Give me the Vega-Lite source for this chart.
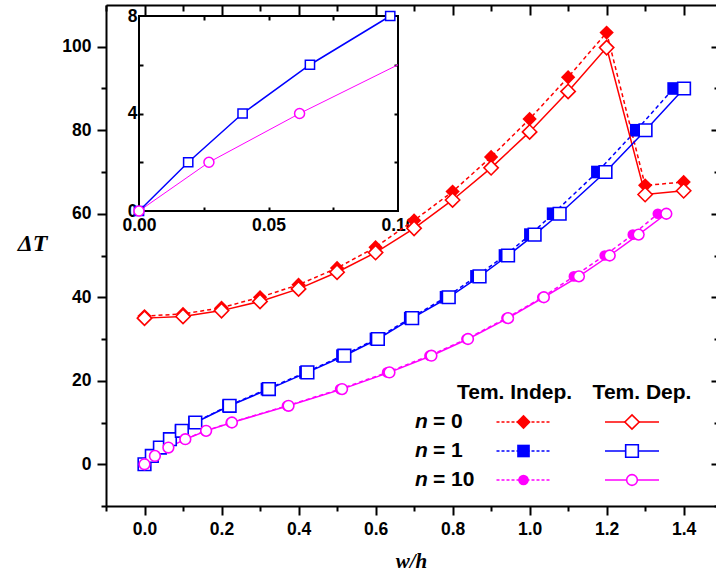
{
 "$schema": "https://vega.github.io/schema/vega-lite/v6.json",
 "width": 610,
 "height": 501,
 "autosize": "none",
 "padding": {"left": 106, "top": 5, "right": 0, "bottom": 74},
 "background": "white",
 "config": {
  "view": {"stroke": null},
  "axis": {"grid": false, "labelFont": "Liberation Sans", "labelFontWeight": "bold", "labelFontSize": 17.5, "labelColor": "black", "tickColor": "black", "tickWidth": 2, "domainColor": "black", "domainWidth": 2, "titleColor": "black", "labelOverlap": false, "labelFlush": false}
 },
 "datasets": {
  "main": [
   {"n":"0","model":"Dep","x":0,"y":35.0},{"n":"0","model":"Dep","x":0.1,"y":35.4},{"n":"0","model":"Dep","x":0.2,"y":36.8},{"n":"0","model":"Dep","x":0.3,"y":39.0},{"n":"0","model":"Dep","x":0.4,"y":42.0},{"n":"0","model":"Dep","x":0.5,"y":46.0},{"n":"0","model":"Dep","x":0.6,"y":50.7},{"n":"0","model":"Dep","x":0.7,"y":56.5},{"n":"0","model":"Dep","x":0.8,"y":63.3},{"n":"0","model":"Dep","x":0.9,"y":71.0},{"n":"0","model":"Dep","x":1.0,"y":79.6},{"n":"0","model":"Dep","x":1.1,"y":89.3},{"n":"0","model":"Dep","x":1.2,"y":99.8},{"n":"0","model":"Dep","x":1.3,"y":64.6},{"n":"0","model":"Dep","x":1.4,"y":65.5},
   {"n":"0","model":"Indep","x":0,"y":35.5},{"n":"0","model":"Indep","x":0.1,"y":36.0},{"n":"0","model":"Indep","x":0.2,"y":37.5},{"n":"0","model":"Indep","x":0.3,"y":40.0},{"n":"0","model":"Indep","x":0.4,"y":43.0},{"n":"0","model":"Indep","x":0.5,"y":47.0},{"n":"0","model":"Indep","x":0.6,"y":52.0},{"n":"0","model":"Indep","x":0.7,"y":58.4},{"n":"0","model":"Indep","x":0.8,"y":65.3},{"n":"0","model":"Indep","x":0.9,"y":73.6},{"n":"0","model":"Indep","x":1.0,"y":82.7},{"n":"0","model":"Indep","x":1.1,"y":92.7},{"n":"0","model":"Indep","x":1.2,"y":103.4},{"n":"0","model":"Indep","x":1.3,"y":66.8},{"n":"0","model":"Indep","x":1.4,"y":67.6},
   {"n":"1","model":"Dep","x":0,"y":0},{"n":"1","model":"Dep","x":0.019,"y":2},{"n":"1","model":"Dep","x":0.040,"y":4},{"n":"1","model":"Dep","x":0.066,"y":6},{"n":"1","model":"Dep","x":0.097,"y":8},{"n":"1","model":"Dep","x":0.132,"y":10},{"n":"1","model":"Dep","x":0.221,"y":14},{"n":"1","model":"Dep","x":0.323,"y":18},{"n":"1","model":"Dep","x":0.423,"y":22},{"n":"1","model":"Dep","x":0.519,"y":26},{"n":"1","model":"Dep","x":0.606,"y":30},{"n":"1","model":"Dep","x":0.695,"y":35},{"n":"1","model":"Dep","x":0.790,"y":40},{"n":"1","model":"Dep","x":0.870,"y":45},{"n":"1","model":"Dep","x":0.944,"y":50},{"n":"1","model":"Dep","x":1.013,"y":55},{"n":"1","model":"Dep","x":1.078,"y":60},{"n":"1","model":"Dep","x":1.197,"y":70},{"n":"1","model":"Dep","x":1.301,"y":80},{"n":"1","model":"Dep","x":1.401,"y":90},
   {"n":"1","model":"Indep","x":0,"y":0},{"n":"1","model":"Indep","x":0.018,"y":2},{"n":"1","model":"Indep","x":0.039,"y":4},{"n":"1","model":"Indep","x":0.065,"y":6},{"n":"1","model":"Indep","x":0.095,"y":8},{"n":"1","model":"Indep","x":0.130,"y":10},{"n":"1","model":"Indep","x":0.218,"y":14},{"n":"1","model":"Indep","x":0.318,"y":18},{"n":"1","model":"Indep","x":0.418,"y":22},{"n":"1","model":"Indep","x":0.514,"y":26},{"n":"1","model":"Indep","x":0.601,"y":30},{"n":"1","model":"Indep","x":0.690,"y":35},{"n":"1","model":"Indep","x":0.783,"y":40},{"n":"1","model":"Indep","x":0.862,"y":45},{"n":"1","model":"Indep","x":0.936,"y":50},{"n":"1","model":"Indep","x":1.002,"y":55},{"n":"1","model":"Indep","x":1.061,"y":60},{"n":"1","model":"Indep","x":1.176,"y":70},{"n":"1","model":"Indep","x":1.277,"y":80},{"n":"1","model":"Indep","x":1.374,"y":90},
   {"n":"10","model":"Dep","x":0,"y":0},{"n":"10","model":"Dep","x":0.027,"y":2},{"n":"10","model":"Dep","x":0.062,"y":4},{"n":"10","model":"Dep","x":0.106,"y":6},{"n":"10","model":"Dep","x":0.160,"y":8},{"n":"10","model":"Dep","x":0.227,"y":10},{"n":"10","model":"Dep","x":0.374,"y":14},{"n":"10","model":"Dep","x":0.513,"y":18},{"n":"10","model":"Dep","x":0.636,"y":22},{"n":"10","model":"Dep","x":0.745,"y":26},{"n":"10","model":"Dep","x":0.840,"y":30},{"n":"10","model":"Dep","x":0.944,"y":35},{"n":"10","model":"Dep","x":1.037,"y":40},{"n":"10","model":"Dep","x":1.128,"y":45},{"n":"10","model":"Dep","x":1.208,"y":50},{"n":"10","model":"Dep","x":1.283,"y":55},{"n":"10","model":"Dep","x":1.355,"y":60},
   {"n":"10","model":"Indep","x":0,"y":0},{"n":"10","model":"Indep","x":0.027,"y":2},{"n":"10","model":"Indep","x":0.061,"y":4},{"n":"10","model":"Indep","x":0.105,"y":6},{"n":"10","model":"Indep","x":0.158,"y":8},{"n":"10","model":"Indep","x":0.224,"y":10},{"n":"10","model":"Indep","x":0.370,"y":14},{"n":"10","model":"Indep","x":0.508,"y":18},{"n":"10","model":"Indep","x":0.630,"y":22},{"n":"10","model":"Indep","x":0.740,"y":26},{"n":"10","model":"Indep","x":0.836,"y":30},{"n":"10","model":"Indep","x":0.940,"y":35},{"n":"10","model":"Indep","x":1.033,"y":40},{"n":"10","model":"Indep","x":1.115,"y":45},{"n":"10","model":"Indep","x":1.195,"y":50},{"n":"10","model":"Indep","x":1.268,"y":55},{"n":"10","model":"Indep","x":1.333,"y":60}
  ],
  "heads": [{"col":"Indep","row":"head","text":"Tem. Indep."},{"col":"Dep","row":"head","text":"Tem. Dep."}],
  "rows": [{"col":"label","row":"n0","label":"= 0"},{"col":"label","row":"n1","label":"= 1"},{"col":"label","row":"n10","label":"= 10"}],
  "items": [
   {"col":"Indep","row":"n0","n":"0"},{"col":"Indep","row":"n1","n":"1"},{"col":"Indep","row":"n10","n":"10"},
   {"col":"Dep","row":"n0","n":"0"},{"col":"Dep","row":"n1","n":"1"},{"col":"Dep","row":"n10","n":"10"}
  ]
 },
 "resolve": {"scale": {"x": "independent", "y": "independent"}},
 "layer": [
  {
   "resolve": {"axis": {"x": "independent", "y": "independent"}},
   "layer": [
    {
     "data": {"values": [{}]},
     "mark": {"type": "rect", "filled": false, "stroke": "black", "strokeWidth": 2},
     "encoding": {
      "x": {"datum": 0, "type": "quantitative", "scale": {"domain": [0, 0.1], "range": [33, 292], "nice": false, "zero": false, "clamp": true},
            "axis": {"orient": "bottom", "offset": -295, "values": [0, 0.05, 0.1], "format": ".2f", "ticks": false, "domain": false, "labelPadding": 5, "title": null}},
      "x2": {"datum": 0.1},
      "y": {"datum": 0, "type": "quantitative", "scale": {"domain": [0, 8], "range": [206, 11], "nice": false, "zero": false},
            "axis": {"orient": "left", "offset": -33, "values": [0, 4, 8], "format": "d", "ticks": false, "domain": false, "labelPadding": 2, "title": null}},
      "y2": {"datum": 8}
     }
    },
    {
     "data": {"name": "main"},
     "transform": [{"filter": "datum.n === '1' && datum.model === 'Dep' && datum.x <= 0.1"}],
     "mark": {"type": "line", "color": "#0000ff", "strokeWidth": 1.5},
     "encoding": {
      "x": {"field": "x", "type": "quantitative", "axis": {"orient": "bottom", "offset": -295, "values": [0.025, 0.05, 0.075], "labels": false, "tickSize": -4, "domain": false, "title": null}},
      "y": {"field": "y", "type": "quantitative", "axis": {"orient": "left", "offset": -33, "values": [2, 4, 6], "labels": false, "tickSize": -4, "domain": false, "title": null}}
     }
    },
    {
     "data": {"name": "main"},
     "transform": [{"filter": "datum.n === '10' && datum.model === 'Dep' && datum.x <= 0.11"}],
     "mark": {"type": "line", "color": "#ff00ff", "strokeWidth": 1},
     "encoding": {
      "x": {"field": "x", "type": "quantitative", "axis": {"orient": "top", "offset": -11, "values": [0.025, 0.05, 0.075], "labels": false, "tickSize": -4, "domain": false, "title": null}},
      "y": {"field": "y", "type": "quantitative", "axis": {"orient": "right", "offset": -318, "values": [2, 4, 6], "labels": false, "tickSize": -4, "domain": false, "title": null}}
     }
    },
    {
     "data": {"name": "main"},
     "transform": [{"filter": "datum.n === '1' && datum.model === 'Dep' && datum.x <= 0.1"}],
     "mark": {"type": "point", "shape": "square", "size": 85, "filled": true, "fill": "white", "stroke": "#0000ff", "strokeWidth": 1.5, "opacity": 1},
     "encoding": {
      "x": {"field": "x", "type": "quantitative", "axis": null},
      "y": {"field": "y", "type": "quantitative", "axis": null}
     }
    },
    {
     "data": {"name": "main"},
     "transform": [{"filter": "datum.n === '10' && datum.model === 'Dep' && datum.x <= 0.1"}],
     "mark": {"type": "point", "shape": "circle", "size": 100, "filled": true, "fill": "white", "stroke": "#ff00ff", "strokeWidth": 1.5, "opacity": 1},
     "encoding": {
      "x": {"field": "x", "type": "quantitative", "axis": null},
      "y": {"field": "y", "type": "quantitative", "axis": null}
     }
    }
   ]
  },
  {
   "data": {"name": "main"},
   "resolve": {"axis": {"x": "independent", "y": "independent"}},
   "layer": [
    {
     "transform": [{"filter": "datum.model === 'Indep'"}],
     "mark": {"type": "line", "strokeWidth": 1.5, "strokeDash": [4, 3]},
     "encoding": {
      "x": {"field": "x", "type": "quantitative", "scale": {"domain": [-0.1, 1.484], "nice": false, "zero": false},
            "axis": {"orient": "bottom", "values": [0, 0.2, 0.4, 0.6, 0.8, 1.0, 1.2, 1.4], "format": ".1f", "tickSize": 9, "labelPadding": 5, "domain": true,
                     "title": "w/h", "titleFont": "Liberation Serif", "titleFontStyle": "italic", "titleFontWeight": "bold", "titleFontSize": 21, "titlePadding": 13}},
      "y": {"field": "y", "type": "quantitative", "scale": {"domain": [-10, 110], "nice": false, "zero": false},
            "axis": {"orient": "left", "values": [0, 20, 40, 60, 80, 100], "tickSize": 9, "labelPadding": 6, "domain": true,
                     "title": "ΔT", "titleAngle": 0, "titleFont": "Liberation Serif", "titleFontStyle": "italic", "titleFontWeight": "bold", "titleFontSize": 24,
                     "titleX": -74, "titleY": 238, "titleAlign": "center", "titleBaseline": "middle"}},
      "color": {"field": "n", "type": "nominal", "scale": {"domain": ["0", "1", "10"], "range": ["#ff0000", "#0000ff", "#ff00ff"]}, "legend": null}
     }
    },
    {
     "transform": [{"filter": "datum.model === 'Indep'"}],
     "mark": {"type": "point", "filled": true, "opacity": 1},
     "encoding": {
      "x": {"field": "x", "type": "quantitative", "axis": {"orient": "bottom", "values": [-0.1, 0.1, 0.3, 0.5, 0.7, 0.9, 1.1, 1.3], "labels": false, "tickSize": 5, "domain": false, "title": null}},
      "y": {"field": "y", "type": "quantitative", "axis": {"orient": "left", "values": [-10, 10, 30, 50, 70, 90], "labels": false, "tickSize": 5, "domain": false, "title": null}},
      "color": {"field": "n", "type": "nominal", "legend": null},
      "shape": {"field": "n", "type": "nominal", "scale": {"domain": ["0", "1", "10"], "range": ["diamond", "square", "circle"]}, "legend": null},
      "size": {"field": "n", "type": "ordinal", "scale": {"domain": ["0", "1", "10"], "range": [205, 115, 110]}, "legend": null}
     }
    },
    {
     "transform": [{"filter": "datum.model === 'Dep'"}],
     "mark": {"type": "line", "strokeWidth": 1.5},
     "encoding": {
      "x": {"field": "x", "type": "quantitative", "axis": {"orient": "top", "values": [0, 0.2, 0.4, 0.6, 0.8, 1.0, 1.2, 1.4], "labels": false, "tickSize": -10, "domain": true, "title": null}},
      "y": {"field": "y", "type": "quantitative", "axis": {"orient": "right", "values": [0, 20, 40, 60, 80, 100], "labels": false, "tickSize": -5, "domain": false, "title": null}},
      "color": {"field": "n", "type": "nominal", "legend": null}
     }
    },
    {
     "transform": [{"filter": "datum.model === 'Dep'"}],
     "mark": {"type": "point", "filled": true, "fill": "white", "strokeWidth": 1.6, "opacity": 1},
     "encoding": {
      "x": {"field": "x", "type": "quantitative", "axis": {"orient": "top", "values": [-0.1, 0.1, 0.3, 0.5, 0.7, 0.9, 1.1, 1.3], "labels": false, "tickSize": -6, "domain": false, "title": null}},
      "y": {"field": "y", "type": "quantitative", "axis": {"orient": "right", "values": [-10, 10, 30, 50, 70, 90], "labels": false, "tickSize": -2, "domain": false, "title": null}},
      "stroke": {"field": "n", "type": "nominal", "scale": {"domain": ["0", "1", "10"], "range": ["#ff0000", "#0000ff", "#ff00ff"]}, "legend": null},
      "shape": {"field": "n", "type": "nominal", "legend": null},
      "size": {"field": "n", "type": "ordinal", "legend": null}
     }
    }
   ]
  },
  {
   "layer": [
    {
     "data": {"name": "heads"},
     "transform": [{"filter": "datum.col === 'Indep'"}],
     "mark": {"type": "text", "font": "Liberation Sans", "fontWeight": "bold", "fontSize": 21, "dx": -9, "baseline": "middle", "color": "black"},
     "encoding": {
      "x": {"field": "col", "type": "nominal", "scale": {"type": "point", "domain": ["label", "Indep", "Dep"], "range": [309, 526], "padding": 0}, "axis": null},
      "y": {"field": "row", "type": "nominal", "scale": {"type": "point", "domain": ["head", "n0", "n1", "n10"], "range": [388, 475], "padding": 0}, "axis": null},
      "text": {"field": "text"}
     }
    },
    {
     "data": {"name": "heads"},
     "transform": [{"filter": "datum.col === 'Dep'"}],
     "mark": {"type": "text", "font": "Liberation Sans", "fontWeight": "bold", "fontSize": 21, "dx": 10, "baseline": "middle", "color": "black"},
     "encoding": {
      "x": {"field": "col", "type": "nominal", "axis": null},
      "y": {"field": "row", "type": "nominal", "axis": null},
      "text": {"field": "text"}
     }
    },
    {
     "data": {"name": "rows"},
     "mark": {"type": "text", "font": "Liberation Sans", "fontWeight": "bold", "fontStyle": "italic", "fontSize": 21, "align": "left", "baseline": "middle", "color": "black"},
     "encoding": {
      "x": {"field": "col", "type": "nominal", "axis": null},
      "y": {"field": "row", "type": "nominal", "axis": null},
      "text": {"value": "n"}
     }
    },
    {
     "data": {"name": "rows"},
     "mark": {"type": "text", "font": "Liberation Sans", "fontWeight": "bold", "fontSize": 21, "align": "left", "baseline": "middle", "dx": 18, "color": "black"},
     "encoding": {
      "x": {"field": "col", "type": "nominal", "axis": null},
      "y": {"field": "row", "type": "nominal", "axis": null},
      "text": {"field": "label"}
     }
    },
    {
     "data": {"name": "items"},
     "transform": [{"filter": "datum.col === 'Indep'"}],
     "mark": {"type": "rule", "strokeWidth": 1.5, "strokeDash": [3, 2], "xOffset": -27, "x2Offset": 27},
     "encoding": {
      "x": {"field": "col", "type": "nominal", "axis": null},
      "x2": {"field": "col"},
      "y": {"field": "row", "type": "nominal", "axis": null},
      "color": {"field": "n", "type": "nominal", "legend": null}
     }
    },
    {
     "data": {"name": "items"},
     "transform": [{"filter": "datum.col === 'Dep'"}],
     "mark": {"type": "rule", "strokeWidth": 1.5, "xOffset": -27, "x2Offset": 27},
     "encoding": {
      "x": {"field": "col", "type": "nominal", "axis": null},
      "x2": {"field": "col"},
      "y": {"field": "row", "type": "nominal", "axis": null},
      "color": {"field": "n", "type": "nominal", "legend": null}
     }
    },
    {
     "data": {"name": "items"},
     "transform": [{"filter": "datum.col === 'Indep'"}],
     "mark": {"type": "point", "filled": true, "opacity": 1},
     "encoding": {
      "x": {"field": "col", "type": "nominal", "axis": null},
      "y": {"field": "row", "type": "nominal", "axis": null},
      "color": {"field": "n", "type": "nominal", "legend": null},
      "shape": {"field": "n", "type": "nominal", "legend": null},
      "size": {"field": "n", "type": "ordinal", "legend": null}
     }
    },
    {
     "data": {"name": "items"},
     "transform": [{"filter": "datum.col === 'Dep'"}],
     "mark": {"type": "point", "filled": true, "fill": "white", "strokeWidth": 1.6, "opacity": 1},
     "encoding": {
      "x": {"field": "col", "type": "nominal", "axis": null},
      "y": {"field": "row", "type": "nominal", "axis": null},
      "stroke": {"field": "n", "type": "nominal", "legend": null},
      "shape": {"field": "n", "type": "nominal", "legend": null},
      "size": {"field": "n", "type": "ordinal", "legend": null}
     }
    }
   ]
  }
 ]
}
